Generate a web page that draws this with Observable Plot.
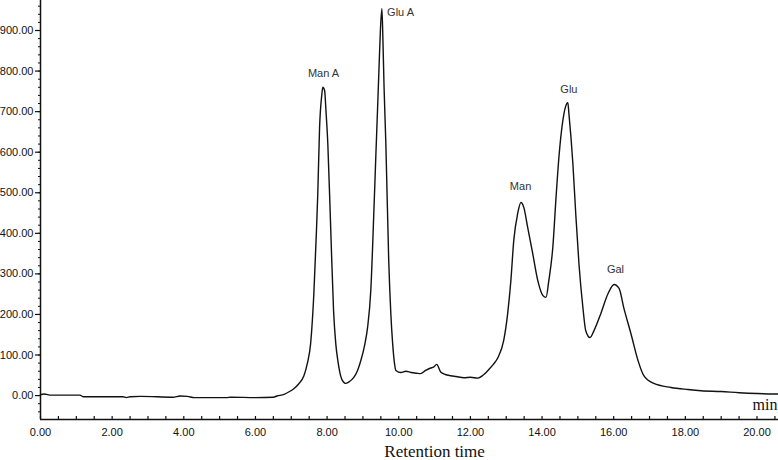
<!DOCTYPE html>
<html>
<head>
<meta charset="utf-8">
<script src="https://cdn.jsdelivr.net/npm/d3@7"></script>
<script src="https://cdn.jsdelivr.net/npm/@observablehq/plot@0.6"></script>
<style>
  html, body { margin: 0; padding: 0; background: #fff; }
  #chart svg { display: block; }
</style>
</head>
<body>
<div id="chart"></div>
<script>
// Chromatogram: retention time (min) vs detector response
const times = [0.0,0.1,0.3,1.1,1.2,2.3,2.4,2.5,2.8,3.7,3.9,4.1,4.3,5.2,5.3,6.0,6.5,6.6,6.8,6.95,7.07,7.2,7.35,7.45,7.54,7.63,7.70,7.74,7.79,7.85,7.88,7.93,7.97,8.02,8.10,8.18,8.24,8.30,8.38,8.45,8.52,8.6,8.74,8.85,8.94,9.05,9.13,9.22,9.30,9.36,9.41,9.45,9.49,9.53,9.56,9.59,9.64,9.72,9.78,9.83,9.88,9.92,10.06,10.2,10.34,10.5,10.61,10.75,10.89,10.97,11.06,11.17,11.3,11.45,11.6,11.82,12.0,12.21,12.35,12.49,12.65,12.77,12.93,13.04,13.13,13.21,13.32,13.41,13.49,13.60,13.74,13.88,14.02,14.11,14.19,14.30,14.39,14.47,14.58,14.69,14.72,14.75,14.86,14.94,15.03,15.14,15.22,15.34,15.45,15.64,15.84,16.01,16.15,16.28,16.48,16.68,16.84,17.12,17.6,18.07,18.44,19.0,19.5,20.0,20.6];
const signal = [2,4,1,1,-3,-3,-5,-3,-2,-4,-1,-2,-5,-5,-4,-5,-4,-1,3,10,17,28,48,80,128,251,400,498,661,740,760,752,700,621,414,210,130,86,48,34,30,33,44,62,86,125,168,260,440,590,710,810,905,954,870,760,621,333,200,128,80,62,57,60,57,55,54,62,68,70,77,58,52,49,47,44,45,43,50,62,78,94,136,202,284,382,449,476,464,414,350,284,247,242,284,365,488,587,678,720,722,695,572,449,325,217,160,143,160,202,251,274,264,217,153,86,49,30,20,15,12,10,7,5,4];

// Peak labels
const peakNames = ["Man A", "Glu A", "Man", "Glu", "Gal"];
const peakTimes = [7.9, 10.05, 13.4, 14.75, 16.05];
const peakLabelValues = [795, 944, 516, 755, 310];

// Axis ticks
const xMajorTicks = [0, 2, 4, 6, 8, 10, 12, 14, 16, 18, 20];
const xMinorTicks = d3.range(0, 20.51, 0.5);
const yMajorTicks = [0, 100, 200, 300, 400, 500, 600, 700, 800, 900];
const yMinorTicks = d3.range(-40, 961, 20);

const xDomain = [0, 20.6];
const yDomain = [-59, 974];

const curve = times.map((t, i) => ({t, v: signal[i]}));
const labels = peakNames.map((name, i) => ({name, t: peakTimes[i], v: peakLabelValues[i]}));

const fmt = d3.format(".2f");
const tickFont = "Liberation Sans, Arial, sans-serif";

const chart = Plot.plot({
  width: 778,
  height: 460,
  marginLeft: 40,
  marginRight: 0,
  marginTop: 0,
  marginBottom: 41,
  style: {background: "#fff", color: "#111", fontFamily: tickFont, fontSize: "11px"},
  x: {domain: xDomain},
  y: {domain: yDomain},
  marks: [
    // y axis: major and minor ticks, outward
    Plot.axisY({ticks: yMajorTicks, tickSize: 5, tickPadding: 2, tickFormat: fmt, label: null, fontSize: 11, stroke: "#111", strokeWidth: 1.2}),
    Plot.axisY({ticks: yMinorTicks, tickSize: 2, tickFormat: () => "", label: null, stroke: "#111"}),
    // x axis: labels and inward ticks
    Plot.axisX({ticks: xMajorTicks, tickSize: 0, tickPadding: 9, tickFormat: fmt, label: null, fontSize: 11}),
    Plot.axisX({ticks: xMinorTicks, tickSize: -3, tickFormat: () => "", label: null, stroke: "#111", strokeWidth: 1.2}),
    // axis lines
    Plot.ruleY([yDomain[0]], {stroke: "#111", strokeWidth: 1.5}),
    Plot.ruleX([xDomain[0]], {stroke: "#111", strokeWidth: 1.5}),
    // signal trace
    Plot.line(curve, {x: "t", y: "v", stroke: "#111", strokeWidth: 1.4, curve: "monotone-x"}),
    // peak labels
    Plot.text(labels, {x: "t", y: "v", text: "name", fontFamily: "Liberation Sans Narrow, Arial Narrow, Liberation Sans, sans-serif", fontSize: 11, fill: "#333", style: "letter-spacing: -0.4px"}),
    // unit and axis title
    Plot.text(["min"], {frameAnchor: "bottom-right", text: d => d, textAnchor: "end", dx: -1, dy: -10, fontFamily: "Liberation Serif, Times New Roman, serif", fontSize: 16, fill: "#111"}),
    Plot.text(["Retention time"], {x: [11], frameAnchor: "bottom", text: d => d, dy: 37, fontFamily: "Liberation Serif, Times New Roman, serif", fontSize: 17, fill: "#111"})
  ]
});

document.getElementById("chart").appendChild(chart);
</script>
</body>
</html>
